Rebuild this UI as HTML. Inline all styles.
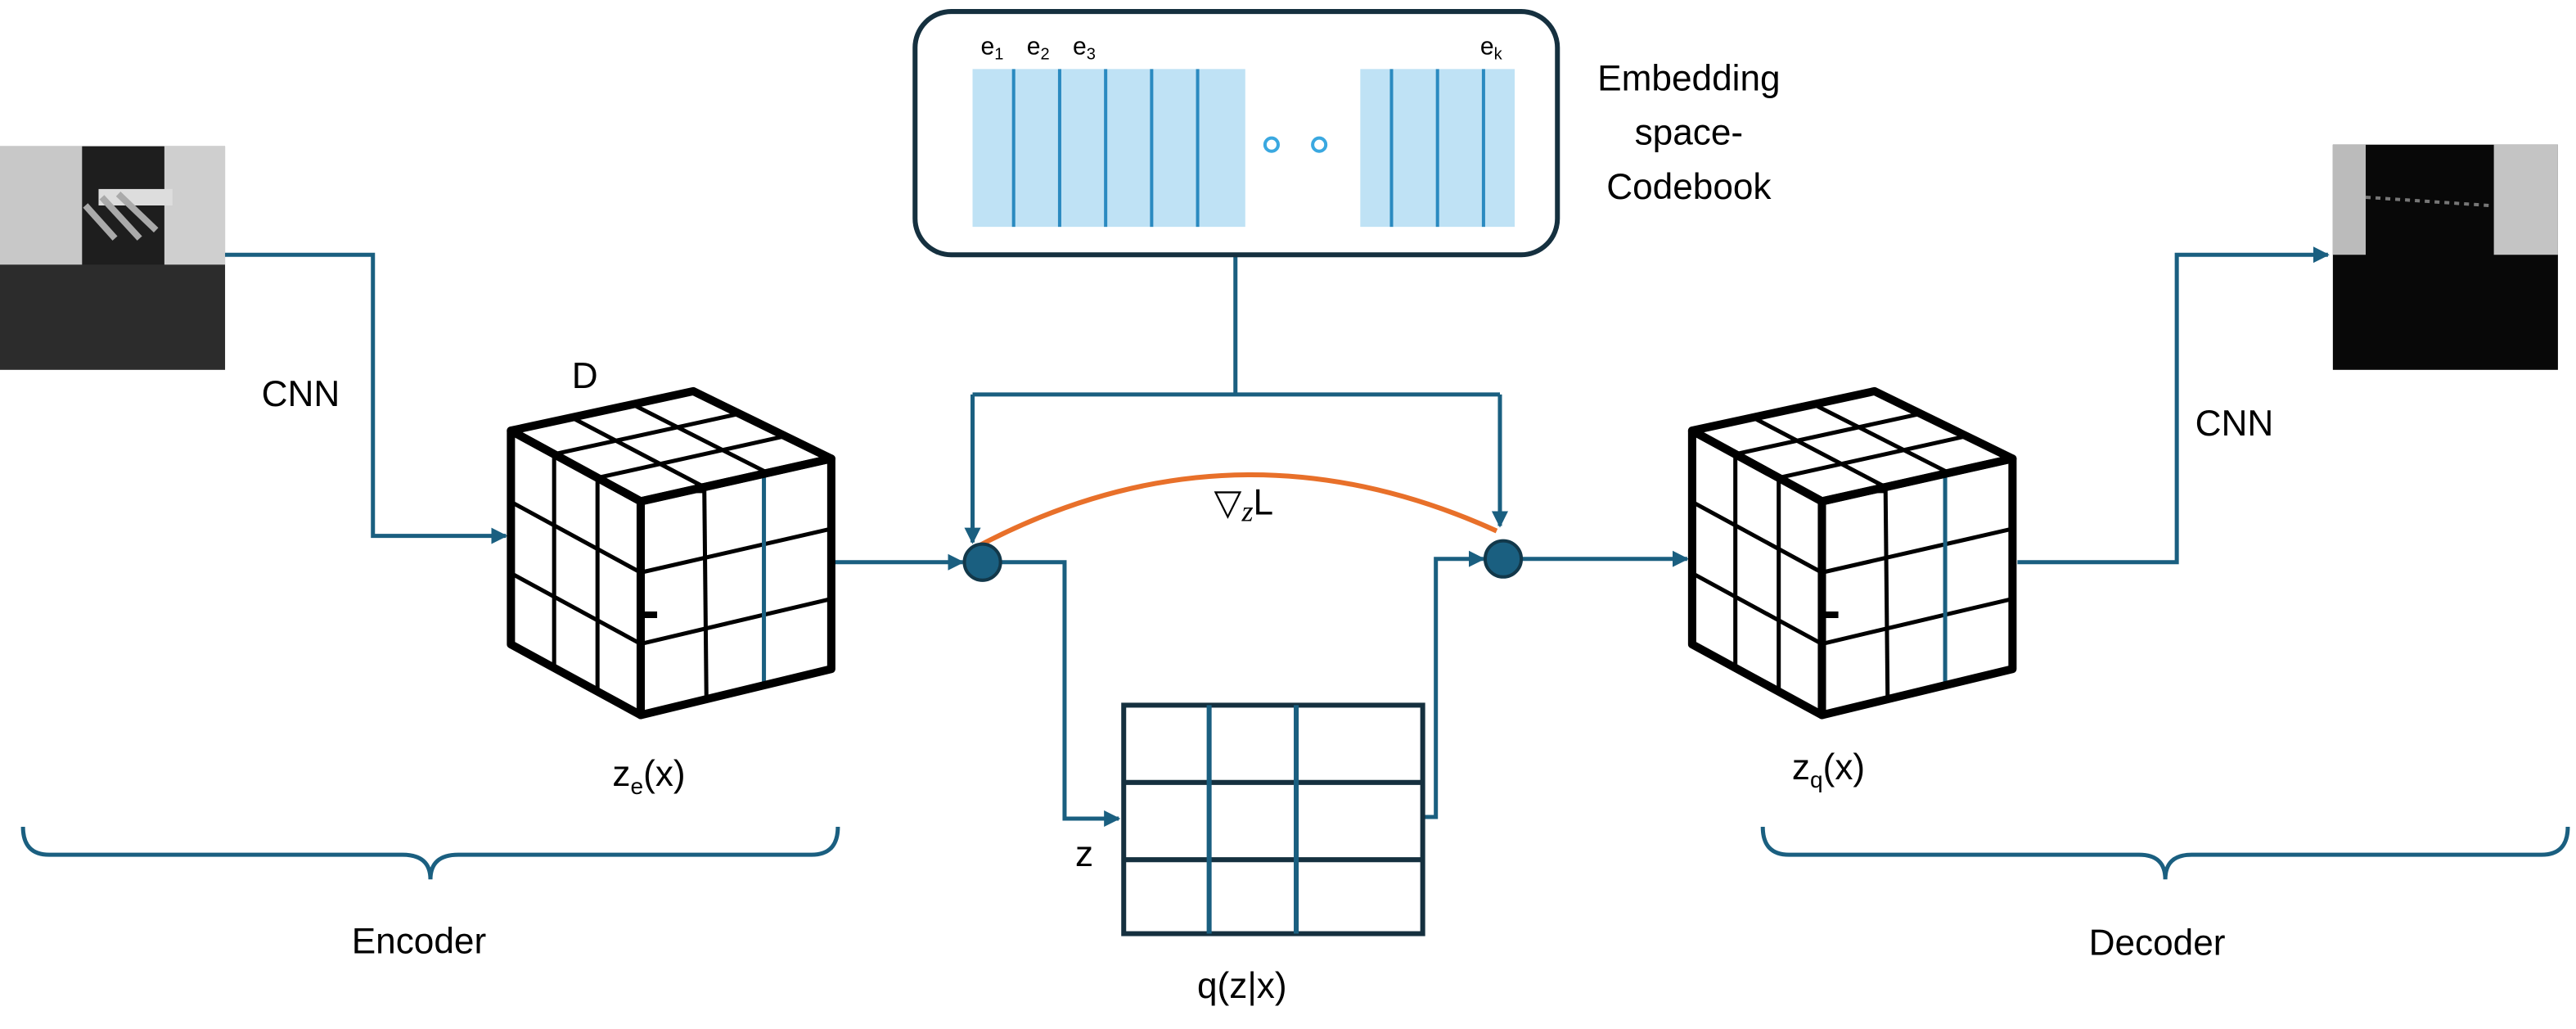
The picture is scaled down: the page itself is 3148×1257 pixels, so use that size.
<!DOCTYPE html>
<html><head><meta charset="utf-8"><style>
html,body{margin:0;padding:0;background:#fff;}
svg{display:block;font-family:"Liberation Sans",sans-serif;}
</style></head><body>
<svg width="3148" height="1257" viewBox="0 0 1568 626" preserveAspectRatio="none" xmlns="http://www.w3.org/2000/svg">
<defs>
<marker id="a" markerWidth="10" markerHeight="10" refX="9" refY="5" orient="auto" markerUnits="userSpaceOnUse"><path d="M0,0 L10,5 L0,10 z" fill="#1a5f80"/></marker>
<g id="cube">
<polygon points="311,262 422,238 506,279 506,407 390,435 311,392" fill="#fff"/>
<g stroke="#000" stroke-width="2.5">
<line x1="348" y1="254" x2="428.7" y2="296.3"/>
<line x1="385" y1="246" x2="467.3" y2="287.7"/>
<line x1="337.3" y1="276.3" x2="450" y2="251.7"/>
<line x1="363.7" y1="290.7" x2="478" y2="265.3"/>
<line x1="337.3" y1="276.3" x2="337.3" y2="406.3"/>
<line x1="363.7" y1="290.7" x2="363.7" y2="420.7"/>
<line x1="311" y1="305.3" x2="390" y2="348.3"/>
<line x1="311" y1="348.7" x2="390" y2="391.7"/>
<line x1="428.7" y1="296.3" x2="430" y2="425.7"/>
<line x1="390" y1="348.3" x2="506" y2="321.7"/>
<line x1="390" y1="391.7" x2="506" y2="364.3"/>
</g>
<line x1="465" y1="288" x2="465" y2="416" stroke="#1a5f80" stroke-width="2.5"/>
<g fill="none" stroke="#000" stroke-width="5" stroke-linejoin="round">
<polygon points="311,262 422,238 506,279 390,305"/>
<polygon points="311,262 390,305 390,435 311,392"/>
<polygon points="390,305 506,279 506,407 390,435"/>
</g>
<rect x="423" y="294" width="5" height="6" fill="#000"/>
<rect x="392" y="372" width="8" height="4" fill="#000"/>
</g>
</defs>
<!-- left image -->
<rect x="0" y="89" width="137" height="136" fill="#2c2c2c"/>
<rect x="0" y="89" width="50" height="72" fill="#c8c8c8"/>
<rect x="100" y="89" width="37" height="72" fill="#cfcfcf"/>
<rect x="50" y="89" width="50" height="72" fill="#1e1e1e"/>
<rect x="60" y="115" width="45" height="10" fill="#ddd"/>
<path d="M52,125 L70,145 M62,120 L85,145 M72,118 L95,140" stroke="#aaa" stroke-width="4"/>
<!-- right image -->
<rect x="1420" y="88" width="137" height="137" fill="#080808"/>
<rect x="1420" y="88" width="20" height="67" fill="#bbb"/>
<rect x="1518" y="88" width="39" height="67" fill="#c4c4c4"/>
<path d="M1440,120 L1515,125" stroke="#777" stroke-width="2" stroke-dasharray="3,3"/>
<g fill="none" stroke="#1a5f80" stroke-width="2.5">
<path d="M137,155 H227 V326 H308" marker-end="url(#a)"/>
<path d="M506,342 H586" marker-end="url(#a)"/>
<path d="M752,155 V240 M592,240 H913"/>
<path d="M592,240 V330" marker-end="url(#a)"/>
<path d="M913,240 V320" marker-end="url(#a)"/>
<path d="M609,342 H648 V498 H681" marker-end="url(#a)"/>
<path d="M866,497 H874 V340 H903" marker-end="url(#a)"/>
<path d="M926,340 H1027" marker-end="url(#a)"/>
<path d="M1228,342 H1325 V155 H1417" marker-end="url(#a)"/>
</g>
<path d="M594,333 Q750,250 911,323" fill="none" stroke="#e8702a" stroke-width="3"/>
<circle cx="598" cy="342" r="11" fill="#1a5f80" stroke="#12384a" stroke-width="2"/>
<circle cx="915" cy="340" r="11" fill="#1a5f80" stroke="#12384a" stroke-width="2"/>
<!-- codebook -->
<rect x="557" y="7" width="391" height="148" rx="22" fill="#fff" stroke="#15303f" stroke-width="3"/>
<rect x="592" y="42" width="166" height="96" fill="#bfe2f5"/>
<rect x="828" y="42" width="94" height="96" fill="#bfe2f5"/>
<path d="M617,42V138M645,42V138M673,42V138M701,42V138M729,42V138M847,42V138M875,42V138M903,42V138" stroke="#2a8ac0" stroke-width="2"/>
<circle cx="774" cy="88" r="4" fill="none" stroke="#3aa8e0" stroke-width="2"/>
<circle cx="803" cy="88" r="4" fill="none" stroke="#3aa8e0" stroke-width="2"/>
<g font-size="15" fill="#000">
<text x="597" y="33">e<tspan font-size="10" dy="3">1</tspan></text>
<text x="625" y="33">e<tspan font-size="10" dy="3">2</tspan></text>
<text x="653" y="33">e<tspan font-size="10" dy="3">3</tspan></text>
<text x="901" y="33">e<tspan font-size="10" dy="3">k</tspan></text>
</g>
<!-- grid -->
<rect x="684" y="429" width="182" height="139" fill="#fff" stroke="#15303f" stroke-width="3"/>
<path d="M684,476H866M684,523H866" stroke="#15303f" stroke-width="3"/>
<path d="M736,429V568M789,429V568" stroke="#1a5f80" stroke-width="3"/>
<!-- cubes -->
<use href="#cube"/>
<use href="#cube" transform="translate(719,0)"/>
<g font-size="22" fill="#000" text-anchor="middle">
<text x="1028" y="55">Embedding</text>
<text x="1028" y="88">space-</text>
<text x="1028" y="121">Codebook</text>
<text x="183" y="247">CNN</text>
<text x="1360" y="265">CNN</text>
<text x="356" y="236">D</text>
<text x="757" y="313"><tspan>▽</tspan><tspan font-style="italic" font-family="Liberation Serif" font-size="18" dy="4">z</tspan><tspan dy="-4">L</tspan></text>
<text x="395" y="478">z<tspan font-size="14" dy="5">e</tspan><tspan dy="-5">(x)</tspan></text>
<text x="1113" y="474">z<tspan font-size="14" dy="5">q</tspan><tspan dy="-5">(x)</tspan></text>
<text x="660" y="527">z</text>
<text x="756" y="607">q(z|x)</text>
<text x="255" y="580">Encoder</text>
<text x="1313" y="581">Decoder</text>
</g>
<!-- braces -->
<g fill="none" stroke="#1a5f80" stroke-width="2.5">
<path d="M14,503 Q14,520 30,520 H245 Q262,520 262,535 Q262,520 279,520 H494 Q510,520 510,503"/>
<path d="M1073,503 Q1073,520 1089,520 H1302 Q1318,520 1318,535 Q1318,520 1334,520 H1547 Q1563,520 1563,503"/>
</g>
</svg>
</body></html>
